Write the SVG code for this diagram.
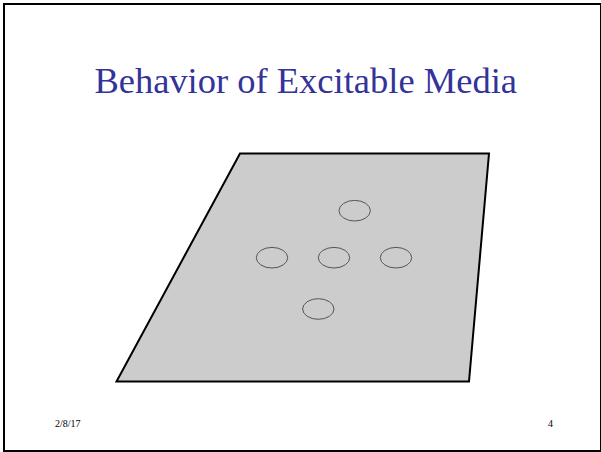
<svg xmlns="http://www.w3.org/2000/svg" width="601" height="452" viewBox="0 0 601 452">
<style>
.title{font-family:"Liberation Serif","Times New Roman",serif;font-size:36.5px;fill:#333399}
.foot{font-family:"Liberation Serif","Times New Roman",serif;font-size:10px;fill:#000}
.cell{fill:none;stroke:#555;stroke-width:1}
</style>
<rect x="0" y="0" width="601" height="452" fill="#fff"/>
<rect x="4" y="4" width="597" height="447" fill="none" stroke="#000" stroke-width="2"/>
<text class="title" x="305.7" y="93.3" text-anchor="middle">Behavior of Excitable Media</text>
<g id="medium">
<polygon points="240,153.5 489,153.5 469,381.5 116.5,381.5" fill="#cccccc" stroke="#000" stroke-width="2" stroke-linejoin="miter"/>
</g>
<g id="cells">
<ellipse class="cell" cx="354.7" cy="210.7" rx="15.7" ry="10.3"/>
<ellipse class="cell" cx="272" cy="257.7" rx="15.7" ry="10.3"/>
<ellipse class="cell" cx="334" cy="257.7" rx="15.7" ry="10.3"/>
<ellipse class="cell" cx="396" cy="257.7" rx="15.7" ry="10.3"/>
<ellipse class="cell" cx="318.3" cy="309" rx="15.7" ry="10.3"/>
</g>
<text class="foot" x="55" y="427">2/8/17</text>
<text class="foot" x="548" y="427">4</text>
</svg>
